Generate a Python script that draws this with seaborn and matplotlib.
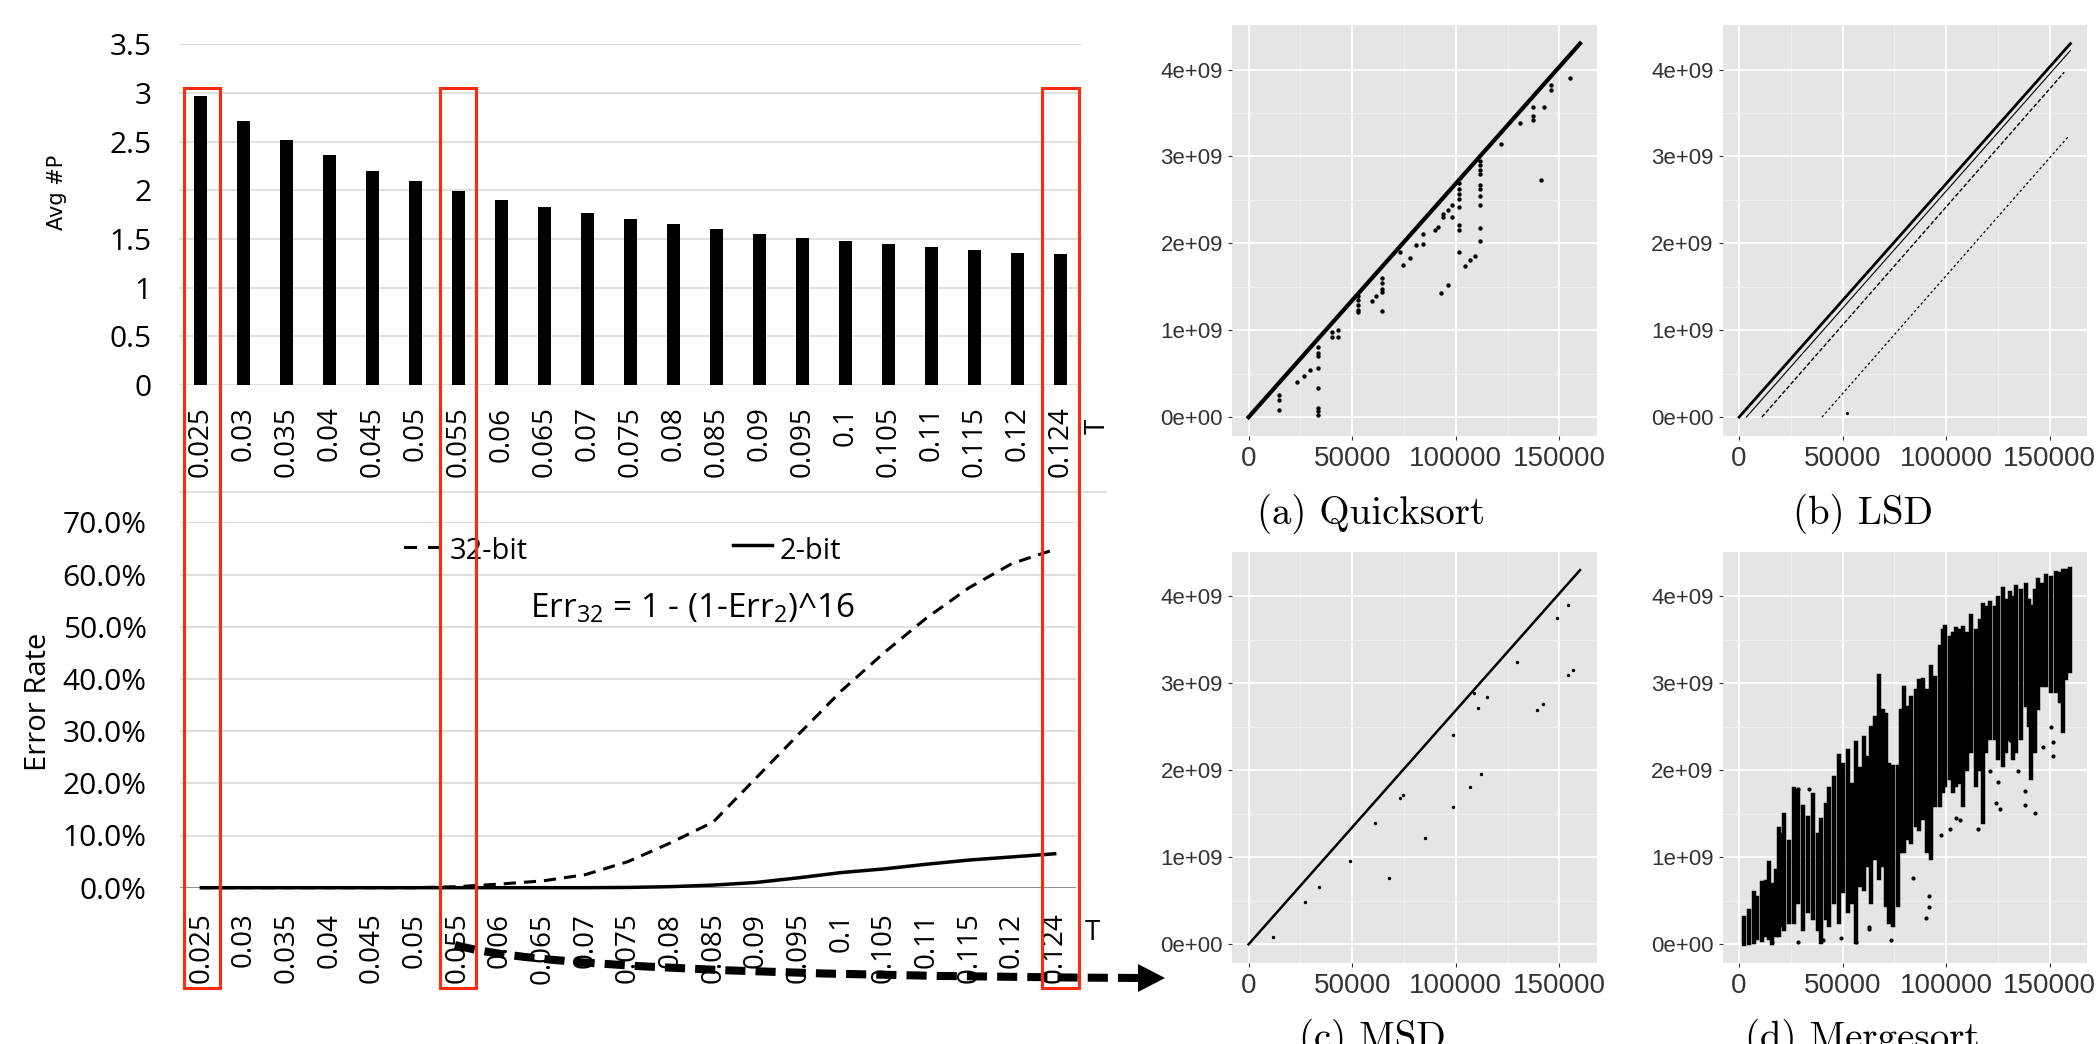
"""
Threshold sweep (Avg #P, error rate) next to four sort-order scatter panels.
"""

import numpy as np
import pandas as pd
import seaborn as sns
import matplotlib.pyplot as plt
from matplotlib.lines import Line2D
from matplotlib.patches import Rectangle, Polygon, PathPatch
from matplotlib.path import Path

W, H = 2097, 1044

# ---- left: threshold sweep ----
t_labels = ["0.025", "0.03", "0.035", "0.04", "0.045", "0.05", "0.055", "0.06",
            "0.065", "0.07", "0.075", "0.08", "0.085", "0.09", "0.095", "0.1",
            "0.105", "0.11", "0.115", "0.12", "0.124"]
avg_p = [2.97, 2.71, 2.52, 2.36, 2.20, 2.10, 1.99, 1.90, 1.83, 1.77, 1.71,
         1.65, 1.60, 1.555, 1.513, 1.48, 1.449, 1.418, 1.39, 1.359, 1.346]
err_32 = [0, 0, 0, 0, 0, 0, 0.2, 0.7, 1.3, 2.5, 5.0, 8.6, 12.6, 21.0, 29.4,
          37.7, 45.0, 51.7, 57.5, 62.1, 64.8]
err_2 = [0, 0, 0, 0, 0, 0, 0, 0, 0, 0, 0.05, 0.2, 0.5, 1.0, 1.9, 2.9, 3.6,
         4.5, 5.3, 5.9, 6.5]
avg_ticks = ["0", "0.5", "1", "1.5", "2", "2.5", "3", "3.5"]
err_ticks = ["0.0%", "10.0%", "20.0%", "30.0%", "40.0%", "50.0%", "60.0%", "70.0%"]

# ---- right: scatter panels (x = index, y in units of 1e9) ----
diag_x = [0, 160000]
diag_y = [0, 4.30]

quick_x = [33750, 33750, 33750, 33750, 33750, 33750, 33750, 33750,
           14470, 14470, 14470, 23300, 26990, 29700,
           40170, 40170, 43380, 43380,
           52700, 52700, 52700, 52700, 52700, 59450, 61380,
           64270, 64270, 64270, 64270, 64270, 74740, 77960, 73130,
           80860, 84080, 84080, 90000, 91600,
           93700, 93700, 96500, 98400, 98400,
           101600, 101600, 101600, 101600, 101600, 101600, 101600, 101600,
           104500, 107000, 109300,
           111700, 111700, 111700, 111700, 111700, 111700, 111700, 111700, 111700, 111700,
           93000, 96300, 121800, 130980, 137400, 137400, 137400, 142700,
           141400, 145900, 145900, 155100]
quick_y = [0.81, 0.74, 0.70, 0.56, 0.33, 0.10, 0.065, 0.027,
           0.255, 0.20, 0.085, 0.41, 0.47, 0.54,
           0.98, 0.92, 1.0, 0.92,
           1.40, 1.35, 1.29, 1.23, 1.21, 1.34, 1.39,
           1.60, 1.54, 1.48, 1.44, 1.22, 1.75, 1.83, 1.90,
           1.98, 2.11, 1.99, 2.15, 2.19,
           2.34, 2.30, 2.38, 2.44, 2.30,
           2.69, 2.63, 2.57, 2.51, 2.42, 2.21, 2.15, 1.90,
           1.74, 1.81, 1.86,
           2.95, 2.90, 2.85, 2.80, 2.67, 2.63, 2.55, 2.44, 2.18, 2.03,
           1.43, 1.52, 3.14, 3.38, 3.57, 3.47, 3.42, 3.57,
           2.73, 3.82, 3.76, 3.90]

lsd_near_x = [3500, 160000]
lsd_near_y = [0, 4.22]
lsd_mid_x = [11000, 157000]
lsd_mid_y = [0, 3.97]
lsd_low_x = [40000, 159000]
lsd_low_y = [0, 3.23]
lsd_pt_x = [52000]
lsd_pt_y = [0.05]

msd_x = [154400, 154400, 156800, 149100, 139200, 142200, 129600, 115100, 110600,
         112300, 106900, 98800, 98800, 108700, 85200, 74700, 73200, 67700,
         61100, 34000, 27100, 11700, 49000]
msd_y = [3.90, 3.09, 3.15, 3.75, 2.69, 2.76, 3.24, 2.84, 2.72,
         1.96, 1.81, 1.58, 2.40, 2.89, 1.22, 1.71, 1.68, 0.76,
         1.39, 0.66, 0.49, 0.085, 0.96]

merge_x = [2420, 4840, 7260, 8870, 11290, 12900, 14520, 16130, 17740,
           19360, 20650, 21780, 24200, 26610, 28230,
           30650, 33070, 35490, 37910, 39520,
           41940, 43550, 45970, 48390, 50330, 52420, 54520, 56460, 58390,
           60490, 62100, 63710, 65810, 67750, 69360, 70970, 72590, 74200, 76620, 78230,
           79840, 81460, 83070, 85490, 87100, 88720, 90650, 92750, 94840, 96780, 98390,
           99200, 101620, 103230, 104850, 106460, 108070, 110170, 112100, 114520,
           116140, 117750, 119360, 120980,
           123400, 125010, 127430, 129040, 130650, 132270, 133880, 136300, 138720,
           140010, 141140, 142750, 144360, 146460, 148400, 150820, 153240, 154850,
           156460, 158070, 159690]
merge_top = [0.30, 0.38, 0.59, 0.53, 0.70, 0.72, 0.93, 0.68, 0.84,
             1.33, 1.26, 1.49, 1.18, 1.78, 1.76,
             1.58, 1.45, 1.72, 1.26, 1.43,
             1.60, 1.78, 1.91, 2.16, 2.06, 2.22, 1.83, 2.31, 2.02,
             2.37, 2.14, 2.49, 2.60, 3.08, 2.68, 2.64, 2.06, 2.04, 2.04, 2.68,
             2.95, 2.72, 2.83, 2.91, 3.02, 3.04, 2.91, 3.19, 3.06, 3.42, 3.60,
             3.65, 3.52, 3.56, 3.62, 3.60, 3.64, 3.56, 3.77, 3.60,
             3.71, 3.90, 3.87, 3.92,
             3.87, 3.98, 4.08, 3.94, 4.04, 3.98, 4.10, 4.06, 4.13,
             3.94, 3.88, 4.06, 4.19, 4.13, 4.23, 4.21, 4.27, 4.25,
             4.29, 4.29, 4.31]
merge_bottom = [0.0, 0.01, 0.03, 0.07, 0.05, 0.11, 0.07, 0.01, 0.11,
                0.11, 0.22, 0.18, 0.26, 0.26, 0.49,
                0.18, 0.38, 0.30, 0.18, 0.03,
                0.30, 0.22, 0.49, 0.26, 0.61, 0.38, 0.49, 0.03, 0.68,
                0.64, 0.91, 0.49, 0.99, 0.76, 0.91, 0.45, 0.26, 0.22, 0.45, 1.07,
                1.07, 1.22, 1.18, 1.37, 1.33, 1.45, 1.07, 0.99, 1.60, 1.60, 1.76,
                1.83, 1.91, 1.76, 1.83, 1.87, 1.60, 2.02, 2.22, 1.83,
                2.02, 1.41, 2.22, 2.37,
                2.37, 2.14, 2.06, 2.22, 2.37, 2.14, 2.22, 2.37, 2.75,
                2.52, 1.91, 2.22, 2.72, 2.98, 2.98, 2.91, 2.91, 2.79,
                2.45, 3.06, 3.14]
merge_pt_x = [28230, 33870, 83880, 91940, 91940, 90330, 73390, 62910, 62910,
              28230, 16130, 115330, 125820, 124200, 137910, 137910, 142750,
              146780, 150820, 151620, 151620, 130650, 130650, 134690, 120980,
              125010, 104850, 106460, 101620, 97590, 40320, 49200, 56460]
merge_pt_y = [1.78, 1.78, 0.76, 0.55, 0.43, 0.30, 0.05, 0.20, 0.18,
              0.03, 0.03, 1.33, 1.55, 1.62, 1.76, 1.60, 1.51,
              2.27, 2.50, 2.33, 2.16, 2.43, 2.35, 1.99, 1.99,
              1.87, 1.45, 1.43, 1.33, 1.26, 0.05, 0.07, 0.03]

x_ticks = [0, 50000, 100000, 150000]
y_ticks = [0, 1e9, 2e9, 3e9, 4e9]
y_tick_labels = ["0e+00", "1e+09", "2e+09", "3e+09", "4e+09"]

plt.rcParams['font.family'] = ['Open Sans', 'DejaVu Sans']

fig = plt.figure(figsize=(W / 100, H / 100), dpi=100)
fig.patch.set_facecolor('white')


def fx(x):
    return x / W


def fy(y):
    return 1 - y / H


def add_ax(x0, x1, y0, y1):
    return fig.add_axes([fx(x0), fy(y1), (x1 - x0) / W, (y1 - y0) / H])


grid_col = '#D9D9D9'
pos = np.arange(len(t_labels))

# top bar chart
ax1 = add_ax(179.3, 1081.7, 44.3, 385)
sns.barplot(x=t_labels, y=avg_p, color='black', width=0.3, saturation=1,
            linewidth=0, ax=ax1)
ax1.set_xlim(-0.5, 20.5)
ax1.set_ylim(0, 3.5)
ax1.set_yticks(np.arange(0, 3.51, 0.5))
ax1.set_yticklabels(avg_ticks)
ax1.grid(axis='y', color=grid_col, lw=1.2)
ax1.set_axisbelow(True)
ax1.tick_params(axis='x', labelrotation=90, labelsize=20, pad=15.5, length=0)
ax1.tick_params(axis='y', labelsize=21.5, pad=20, length=0)
ax1.set_xlabel('')
ax1.set_ylabel('')
for s in ax1.spines.values():
    s.set_visible(False)

# bottom error-rate chart
ax2 = add_ax(180, 1076, 522.3, 887.7)
sns.lineplot(x=pos, y=err_32, color='black', lw=2.2, linestyle=(0, (4, 2.6)),
             ax=ax2, clip_on=False, zorder=5)
sns.lineplot(x=pos, y=err_2, color='black', lw=2.5, ax=ax2, clip_on=False, zorder=6)
ax2.set_xlim(-0.5, 20.5)
ax2.set_ylim(0, 70)
ax2.set_yticks(np.arange(0, 71, 10))
ax2.set_yticklabels(err_ticks)
ax2.set_xticks(pos)
ax2.set_xticklabels(t_labels)
ax2.grid(axis='y', color=grid_col, lw=1.2)
ax2.grid(axis='x', visible=False)
ax2.axhline(0, color='#8C8C8C', lw=1.4, zorder=2)
ax2.tick_params(axis='x', labelrotation=90, labelsize=20, pad=18, length=0)
ax2.tick_params(axis='y', labelsize=21.5, pad=24, length=0)
ax2.set_xlabel('')
ax2.set_ylabel('')
for s in ax2.spines.values():
    s.set_visible(False)

# axis titles / legend / formula
fig.text(fx(57), fy(192), "Avg #P", rotation=90, ha='center', va='center',
         fontsize=15, family='DejaVu Sans')
fig.text(fx(38), fy(701.7), "Error Rate", rotation=90, ha='center', va='center',
         fontsize=21)
fig.text(fx(1098), fy(426), "T", rotation=90, ha='center', va='center', fontsize=20)
fig.text(fx(1092), fy(933), "T", ha='center', va='center', fontsize=20)
fig.add_artist(Line2D([fx(180), fx(1106)], [fy(491.7), fy(491.7)],
                      color=grid_col, lw=1.2, transform=fig.transFigure))
for a, b in [(405, 415), (429, 439)]:
    fig.add_artist(Line2D([fx(a), fx(b)], [fy(546.5), fy(546.5)], color='black',
                          lw=2.2, transform=fig.transFigure))
fig.add_artist(Line2D([fx(733), fx(772)], [fy(545), fy(545)], color='black',
                      lw=2.5, transform=fig.transFigure))
fig.text(fx(450), fy(559), "32-bit", fontsize=21, va='baseline')
fig.text(fx(780), fy(559), "2-bit", fontsize=21, va='baseline')
fig.text(fx(530), fy(617), r"Err$_{\mathregular{32}}$ = 1 - (1-Err$_{\mathregular{2}}$)^16",
         fontsize=24, va='baseline')


# ggplot-like scatter panels
def gg_panel(x0, x1, y0, y1):
    ax = add_ax(x0, x1, y0, y1)
    ax.set_facecolor('#E5E5E5')
    ax.set_xlim(-8000, 168000)
    ax.set_ylim(-0.2147e9, 4.51e9)
    ax.set_xticks(x_ticks)
    ax.set_xticklabels([str(v) for v in x_ticks])
    ax.set_yticks(y_ticks)
    ax.set_yticklabels(y_tick_labels)
    ax.set_xticks([25000, 75000, 125000], minor=True)
    ax.set_yticks([0.5e9, 1.5e9, 2.5e9, 3.5e9], minor=True)
    ax.grid(True, which='major', color='white', lw=1.3)
    ax.grid(True, which='minor', color='#F2F2F2', lw=0.6)
    ax.set_axisbelow(True)
    ax.tick_params(which='minor', length=0)
    ax.tick_params(axis='x', which='major', labelsize=20, pad=4.5, length=3,
                   color='#333333', labelcolor='#333333', labelfontfamily='Liberation Sans')
    ax.tick_params(axis='y', which='major', labelsize=16, pad=3.5, length=3,
                   color='#333333', labelcolor='#333333', labelfontfamily='Liberation Sans')
    for s in ax.spines.values():
        s.set_visible(False)
    return ax


def diag(ax, xs, ys, lw, ls='-'):
    sns.lineplot(x=xs, y=np.array(ys) * 1e9, color='black', lw=lw, linestyle=ls, ax=ax)


ax_a = gg_panel(1232, 1596.6, 25.3, 435.8)
diag(ax_a, diag_x, diag_y, 3.0)
sns.scatterplot(x=quick_x, y=np.array(quick_y) * 1e9, color='black', s=10,
                linewidth=0, ax=ax_a)

ax_b = gg_panel(1722.5, 2087, 25.3, 435.8)
diag(ax_b, diag_x, diag_y, 2.0)
diag(ax_b, lsd_near_x, lsd_near_y, 0.8)
diag(ax_b, lsd_mid_x, lsd_mid_y, 1.0, (0, (3, 1.5)))
diag(ax_b, lsd_low_x, lsd_low_y, 0.9, (0, (2, 2)))
sns.scatterplot(x=lsd_pt_x, y=np.array(lsd_pt_y) * 1e9, color='black', s=5,
                linewidth=0, ax=ax_b)

ax_c = gg_panel(1232, 1596.6, 551.8, 963)
diag(ax_c, diag_x, diag_y, 1.8)
sns.scatterplot(x=msd_x, y=np.array(msd_y) * 1e9, color='black', s=6,
                linewidth=0, ax=ax_c)

ax_d = gg_panel(1722.5, 2087, 551.8, 963)
streaks = pd.DataFrame({
    'x': merge_x + merge_x,
    'y': list(np.array(merge_top + merge_bottom) * 1e9),
    'streak': list(range(len(merge_x))) * 2,
})
sns.lineplot(data=streaks, x='x', y='y', units='streak', estimator=None, sort=False,
             color='black', lw=3.2, ax=ax_d)
sns.scatterplot(x=merge_pt_x, y=np.array(merge_pt_y) * 1e9, color='black', s=9,
                linewidth=0, ax=ax_d)

for ax in (ax_a, ax_b, ax_c, ax_d):
    ax.set_xlabel('')
    ax.set_ylabel('')

# captions
for cx, cy, txt, va in [(1371, 524, "(a) Quicksort", 'baseline'),
                        (1863, 524, "(b) LSD", 'baseline'),
                        (1372, 1019, "(c) MSD", 'top'),
                        (1862, 1019, "(d) Mergesort", 'top')]:
    fig.text(fx(cx), fy(cy), txt, ha='center', va=va, fontsize=28, family='cmr10')

# red highlight boxes
for x0, x1 in [(183.8, 219.5), (440.2, 476.2), (1042.2, 1078.5)]:
    fig.add_artist(Rectangle((fx(x0), fy(987.8)), (x1 - x0) / W, (987.8 - 87.5) / H,
                             fill=False, ec='#FF2A0A', lw=2.2,
                             transform=fig.transFigure, zorder=10))

# dashed arrow to the scatter panels
arrow = Path([(fx(455), fy(945)), (fx(560), fy(975)), (fx(1140), fy(978))],
             [Path.MOVETO, Path.CURVE3, Path.CURVE3])
fig.add_artist(PathPatch(arrow, fill=False, ec='black', lw=5.8,
                         linestyle=(0, (2.5, 1.25)), transform=fig.transFigure, zorder=9))
fig.add_artist(Polygon([(fx(1138), fy(964)), (fx(1165), fy(978)), (fx(1138), fy(992))],
                       closed=True, fc='black', ec='none',
                       transform=fig.transFigure, zorder=9))

fig.savefig("out.png", dpi=100)
